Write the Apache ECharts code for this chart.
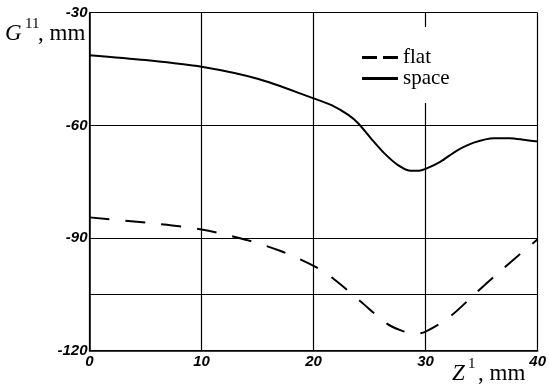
<!DOCTYPE html>
<html>
<head>
<meta charset="utf-8">
<script src="https://cdn.jsdelivr.net/npm/echarts@6/dist/echarts.min.js"></script>
<style>html,body{margin:0;padding:0;background:#fff;}#c{width:549px;height:387px;}</style>
</head>
<body>
<div id="c"></div>
<script>
// Data
var seriesNames = ['flat', 'space'];
var flatZ = [0, 5, 10, 14, 17, 20, 21.8, 24.2, 26.5, 27.8, 29.1, 30, 32.1, 34.4, 36.7, 40];
var flatG = [-84.5, -85.9, -87.7, -90.5, -93.4, -97.4, -100.9, -106.9, -112.7, -114.6, -115.5, -114.9, -111.1, -104.9, -98.7, -90.3];
var spaceZ = [0, 5, 10, 15, 20, 21.6, 23.1, 24, 25.1, 26.3, 27.5, 28.7, 29.4, 30, 31.3, 32.8, 34.3, 36.1, 37.5, 38.9, 40];
var spaceG = [-41.3, -42.6, -44.4, -47.6, -52.8, -54.6, -57.2, -59.5, -63.4, -67.4, -70.5, -72.1, -72.1, -71.6, -69.7, -66.7, -64.6, -63.4, -63.4, -63.9, -64.3];
var xTicks = {min: 0, max: 40, interval: 10};
var yTicks = {min: -120, max: -30, interval: 30};
var extraGridY = [-105];

function pairs(xs, ys) { return xs.map(function (x, i) { return [x, ys[i]]; }); }

var labelFont = {fontFamily: 'Liberation Sans', fontWeight: 'bold', fontStyle: 'italic', fontSize: 15, color: '#000'};
var serif = 'Liberation Serif';

var chart = echarts.init(document.getElementById('c'), null, {renderer: 'canvas'});
chart.setOption({
  animation: false,
  backgroundColor: '#fff',
  grid: {left: 89.5, right: 7.5, top: 12.7, bottom: 36.3, containLabel: false},
  xAxis: {
    type: 'value', min: xTicks.min, max: xTicks.max, interval: xTicks.interval,
    axisLine: {show: true, onZero: false, lineStyle: {color: '#000', width: 1.5}},
    axisTick: {show: false},
    splitLine: {show: true, lineStyle: {color: '#000', width: 1.2}},
    axisLabel: Object.assign({margin: 4}, labelFont)
  },
  yAxis: {
    type: 'value', min: yTicks.min, max: yTicks.max, interval: yTicks.interval,
    axisLine: {show: true, onZero: false, lineStyle: {color: '#000', width: 1.5}},
    axisTick: {show: false},
    splitLine: {show: true, lineStyle: {color: '#000', width: 1.2}},
    axisLabel: Object.assign({margin: 2}, labelFont)
  },
  legend: {
    orient: 'vertical', left: 352, top: 27,
    padding: [20, 12, 14, 10],
    backgroundColor: '#fff',
    itemWidth: 36, itemHeight: 3, itemGap: 0,
    data: [
      {name: seriesNames[0], icon: 'path://M0,0h15v3h-15z M21,0h15v3h-15z'},
      {name: seriesNames[1], icon: 'path://M0,0h36v3h-36z'}
    ],
    itemStyle: {color: '#000', borderWidth: 0},
    lineStyle: {width: 0},
    textStyle: {fontFamily: serif, fontSize: 21, color: '#000', lineHeight: 19}
  },
  series: [
    {
      name: seriesNames[0], type: 'line', data: pairs(flatZ, flatG),
      smooth: 0.3, symbol: 'none',
      lineStyle: {color: '#000', width: 2, type: [20, 16]},
      itemStyle: {color: '#000'},
      markLine: {
        silent: true, symbol: 'none', label: {show: false},
        lineStyle: {color: '#000', width: 1.2, type: 'solid'},
        data: extraGridY.map(function (v) { return {yAxis: v}; })
      }
    },
    {
      name: seriesNames[1], type: 'line', data: pairs(spaceZ, spaceG),
      smooth: 0.3, symbol: 'none',
      lineStyle: {color: '#000', width: 2, type: 'solid'},
      itemStyle: {color: '#000'}
    }
  ],
  graphic: [
    {type: 'text', left: 5, top: 22, style: {text: 'G', font: 'italic 23px "Liberation Serif"', fill: '#000'}},
    {type: 'text', left: 25, top: 17, style: {text: '11', font: '15px "Liberation Serif"', fill: '#000'}},
    {type: 'text', left: 38, top: 22, style: {text: ', mm', font: '23px "Liberation Serif"', fill: '#000'}},
    {type: 'text', left: 452, top: 362, style: {text: 'Z', font: 'italic 23px "Liberation Serif"', fill: '#000'}},
    {type: 'text', left: 468, top: 357, style: {text: '1', font: '15px "Liberation Serif"', fill: '#000'}},
    {type: 'text', left: 478, top: 362, style: {text: ', mm', font: '23px "Liberation Serif"', fill: '#000'}}
  ]
});
</script>
</body>
</html>
